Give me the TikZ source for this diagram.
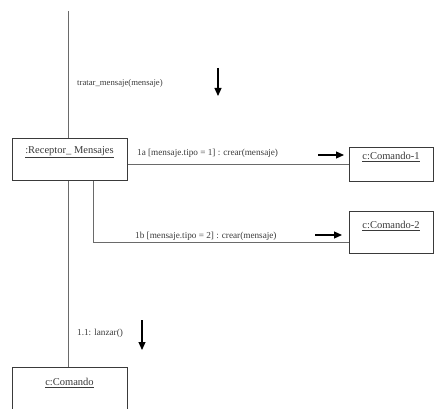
\documentclass[tikz,border=0pt]{standalone}
\usepackage{fontspec}
\setmainfont{Liberation Serif}
\usetikzlibrary{arrows.meta}
\definecolor{ink}{HTML}{3A3A3A}
\definecolor{wire}{HTML}{6A6A6A}
\begin{document}
\begin{tikzpicture}[x=1pt,y=1pt,
  obj/.style={draw=ink, line width=0.9pt, fill=white, inner sep=0pt, minimum height=42pt},
  objlabel/.style={font=\fontsize{10.5}{12}\selectfont, text=ink},
  msg/.style={font=\fontsize{9.2}{11}\selectfont, text=ink, anchor=west, inner sep=0pt},
  link/.style={draw=wire, line width=1pt},
  flow/.style={draw=black, line width=1.1pt, -{Triangle[length=8pt,width=7pt]}}]
\useasboundingbox (0,0) rectangle (434,408);
% objects
\node[obj, minimum width=115pt, anchor=north west] (rec) at (12,270) {};
\node[objlabel] at (69.5,256) {\underline{:Receptor\_ Mensajes}};
\node[obj, minimum width=84pt, minimum height=34pt, anchor=north west] (c1) at (349,261) {};
\node[objlabel] at (391,251) {\underline{c:Comando-1}};
\node[obj, minimum width=84pt, anchor=north west] (c2) at (349,197) {};
\node[objlabel] at (391,182) {\underline{c:Comando-2}};
\node[obj, minimum width=115pt, anchor=north west] (cmd) at (12,41) {};
\node[objlabel] at (69.5,25) {\underline{c:Comando}};
% links
\coordinate (top) at (68,397);
\draw[link] (top) -- (rec.north -| top);
\draw[link] (rec.south -| top) -- (cmd.north -| top);
\draw[link] (rec.east |- 0,244) -- (c1.west |- 0,244);
\coordinate (bend) at (93,166);
\draw[link] (rec.south -| bend) -- (bend) -- (c2.west |- bend);
% messages
\node[msg, font=\fontsize{8.7}{10}\selectfont] (m0) at (77,325) {tratar\_mensaje(mensaje)};
\coordinate (a0s) at (218,340); \coordinate (a0e) at (218,312);
\draw[flow] (a0s) -- (a0e);
\node[msg] (m1) at (137,255) {1a [mensaje.tipo = 1] : crear(mensaje)};
\coordinate (a1s) at (318,253); \coordinate (a1e) at (344,253);
\draw[flow] (a1s) -- (a1e);
\node[msg] (m2) at (135,172) {1b [mensaje.tipo = 2] : crear(mensaje)};
\coordinate (a2s) at (315,173); \coordinate (a2e) at (342,173);
\draw[flow] (a2s) -- (a2e);
\node[msg] (m3) at (77,75) {1.1: lanzar()};
\coordinate (a3s) at (142,88); \coordinate (a3e) at (142,58);
\draw[flow] (a3s) -- (a3e);
\end{tikzpicture}
\end{document}
